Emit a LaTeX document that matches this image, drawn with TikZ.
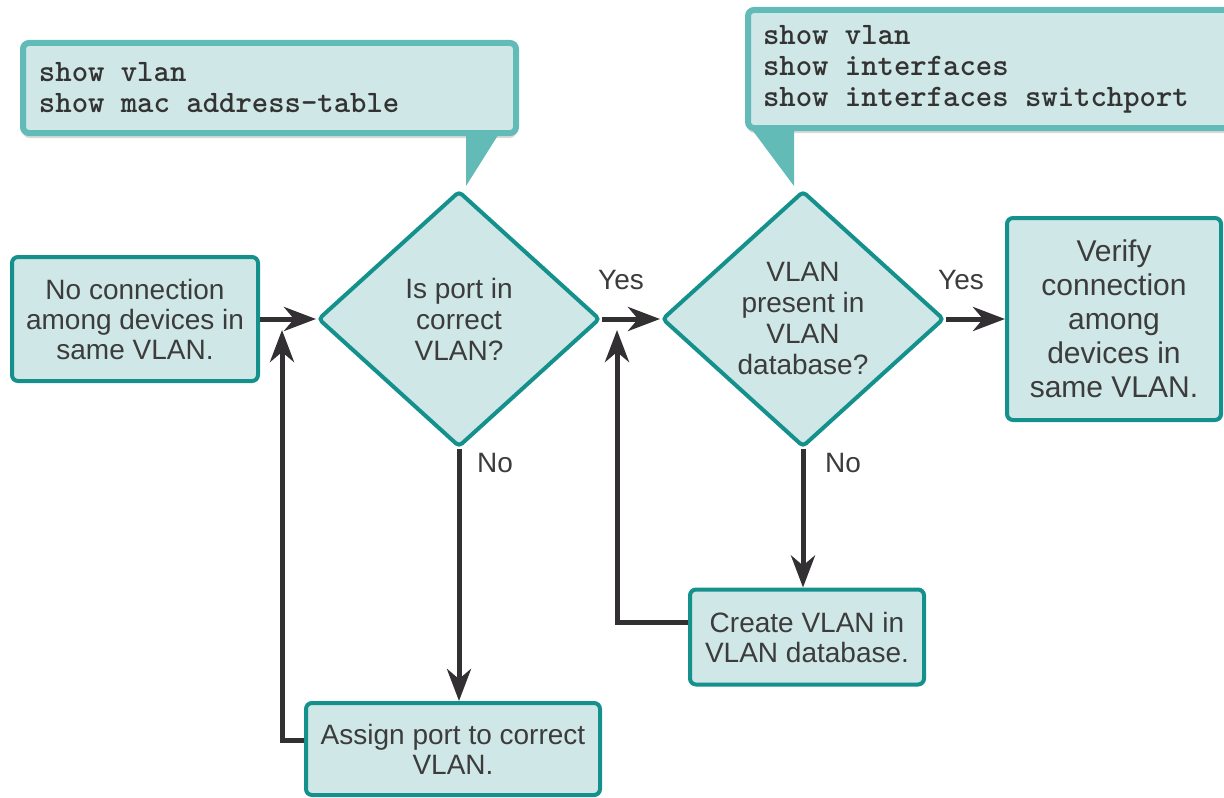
\documentclass[tikz,border=0pt]{standalone}
\usepackage{fontspec}
\setmainfont{Liberation Sans}
\usetikzlibrary{shapes.geometric,arrows.meta,shadows}
\definecolor{tealline}{HTML}{14918C}
\definecolor{tealfill}{HTML}{CFE7E6}
\definecolor{calloutline}{HTML}{63BBB8}
\definecolor{inkgray}{HTML}{3C3C3C}
\definecolor{arrowgray}{HTML}{333033}
\DeclareRobustCommand\cmdfont{\fontsize{15.6}{15.5}\selectfont\ttfamily\bfseries}
\DeclareRobustCommand\cellspace{\spaceskip=.525em\xspaceskip=.525em\relax}

\begin{document}
\begin{tikzpicture}[x=0.5pt, y=-0.5pt,
    box/.style={draw=tealline, fill=tealfill, line width=2pt, rounded corners=3pt, align=center, text=inkgray, inner sep=0pt, font=\fontsize{14}{15}\selectfont},
    decision/.style={diamond, draw=tealline, fill=tealfill, line width=2pt, rounded corners=2pt, align=center, text=inkgray, inner sep=0pt, minimum width=141pt, minimum height=128pt, font=\fontsize{14}{15.5}\selectfont},
    callout/.style={draw=calloutline, fill=tealfill, line width=3pt, rounded corners=3pt, align=left, text=black!80, anchor=north west, font=\cmdfont, drop shadow={shadow xshift=0pt, shadow yshift=-2.5pt, opacity=.3}},
    answer/.style={text=inkgray, font=\fontsize{14}{15}\selectfont},
    flow/.style={draw=arrowgray, line width=2.5pt, -{Stealth[length=16pt, width=12pt, inset=5pt]}}]
        \useasboundingbox (0,0) rectangle (1224,797);
        \clip (0,0) rectangle (1224,797);

        % Define the steps of the check
        \node[box, minimum width=123pt, minimum height=62pt] (start) at (135,319) {No connection\\among devices in\\same VLAN.};
        \node[decision] (Q_1) at (459,319) {Is port in\\correct\\VLAN?};
        \node[decision] (Q_2) at (803,319) {VLAN\\present in\\VLAN\\database?};
        \node[box, minimum width=107pt, minimum height=101pt, font=\fontsize{15}{17}\selectfont] (done) at (1114,319) {Verify\\connection\\among\\devices in\\same VLAN.};
        \node[box, minimum width=147pt, minimum height=46pt] (fix_1) at (453,749) {Assign port to correct\\VLAN.};
        \node[box, minimum width=117pt, minimum height=47.5pt] (fix_2) at (807,637) {Create VLAN in\\VLAN database.};

        % Commands to use at each question
        \node[callout, minimum width=246.5pt, minimum height=45pt, text width=230.5pt, inner xsep=8pt] (cmd_1) at (20,40) {\cellspace show vlan\\show mac address-table};
        \node[callout, minimum width=250pt, minimum height=59pt, text width=235pt, inner xsep=7.5pt] (cmd_2) at (745,7) {\cellspace show vlan\\show interfaces\\show interfaces switchport};

        \coordinate (tip_1) at (466,186);
        \coordinate (tip_2) at (794,186);
        \fill[calloutline] ([yshift=2pt]tip_1 |- cmd_1.south) -- ++(34,0) -- (tip_1) -- cycle;
        \fill[calloutline] ([yshift=2pt]tip_2 |- cmd_2.south) -- ++(-44,0) -- (tip_2) -- cycle;

        % Draw the arrows
        \coordinate (back_1) at (282,330);
        \coordinate (back_2) at (617,330);

        \draw[flow] (start) -- (Q_1);
        \draw[flow] (Q_1) -- (Q_2);
        \draw[flow] (Q_2) -- (done);
        \draw[flow] (Q_1.south) -- (Q_1.south |- fix_1.north);
        \draw[flow] (Q_2.south) -- (Q_2.south |- fix_2.north);
        \draw[flow] ([yshift=4.5pt]fix_1.west) -| (back_1);
        \draw[flow] ([yshift=7.5pt]fix_2.west) -| (back_2);

        % Add the answers
        \node[answer] (yes_1) at (621,280) {Yes};
        \node[answer] (yes_2) at (961,280) {Yes};
        \node[answer] (no_1) at (495,463) {No};
        \node[answer] (no_2) at (843,463) {No};

    \end{tikzpicture}
\end{document}
